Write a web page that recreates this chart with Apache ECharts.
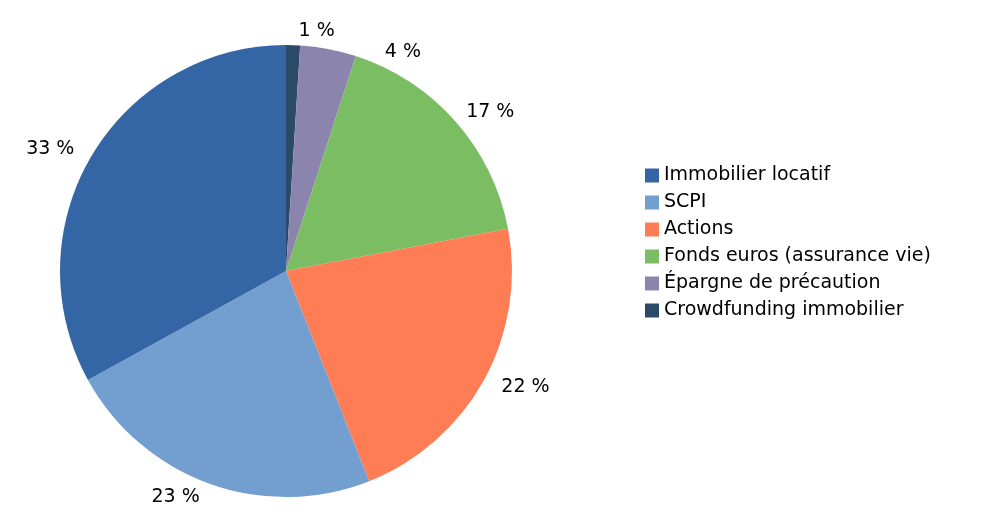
<!DOCTYPE html><html><head><meta charset="utf-8"><script src="https://cdn.jsdelivr.net/npm/echarts@6/dist/echarts.min.js"></script></head><body style="margin:0;background:#fff"><div id="c" style="width:1000px;height:529px"></div><script>
const categories=["Crowdfunding immobilier","Épargne de précaution","Fonds euros (assurance vie)","Actions","SCPI","Immobilier locatif"];
const values=[1,4,17,22,23,33];
const legendOrder=["Immobilier locatif","SCPI","Actions","Fonds euros (assurance vie)","Épargne de précaution","Crowdfunding immobilier"];
const colors=["#2b4a68","#8b85ad","#7bbd63","#ff7d55","#729fcf","#3465a4"];
const ch=echarts.init(document.getElementById('c'));
ch.setOption({animation:false,color:colors,
legend:{orient:'vertical',left:640,top:161,itemWidth:14,itemHeight:14,itemGap:8,icon:'rect',data:legendOrder,textStyle:{fontFamily:'DejaVu Sans',fontSize:19,lineHeight:19,color:'#000'}},
series:[{type:'pie',center:[286,271],radius:226,startAngle:90,clockwise:true,
data:categories.map((n,i)=>({name:n,value:values[i]})),
label:{show:true,position:'outside',formatter:p=>p.value+' %',fontFamily:'DejaVu Sans',fontSize:19,color:'#000'},
labelLine:{show:false,length:14,length2:0},itemStyle:{borderWidth:0}}]});
</script></body></html>
